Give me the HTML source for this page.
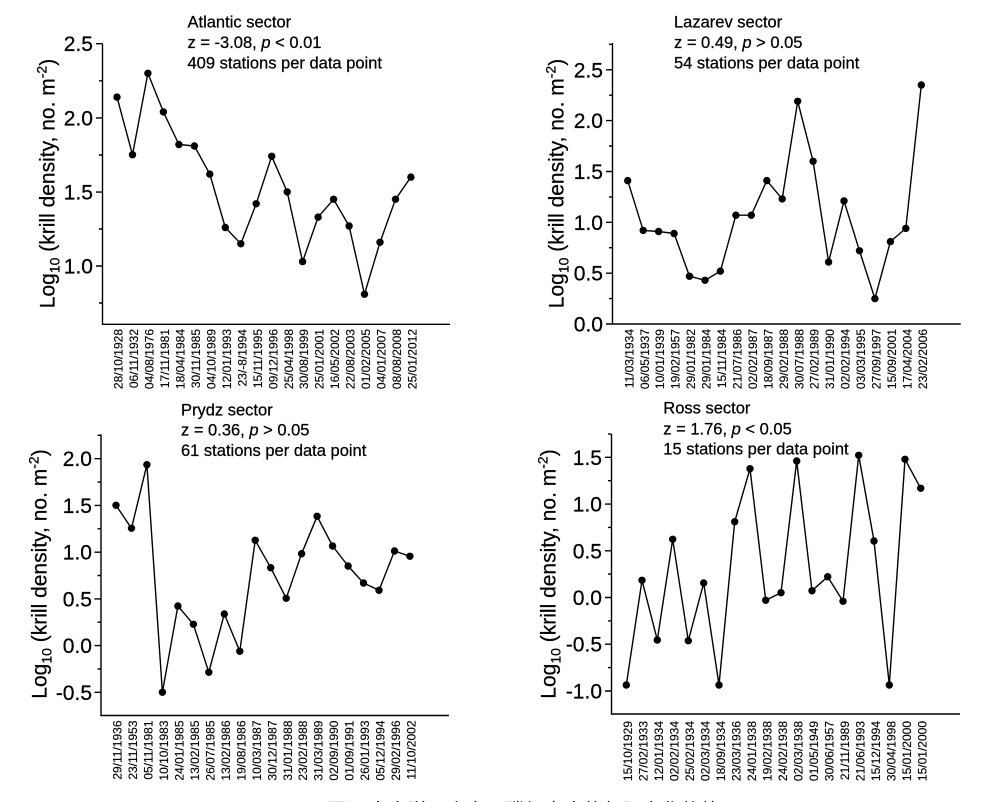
<!DOCTYPE html>
<html><head><meta charset="utf-8"><style>
html,body{margin:0;padding:0;background:#fff;}
svg{display:block;}
text{font-family:"Liberation Sans",Arial,sans-serif;fill:#000;stroke:#000;stroke-width:0.25px;}
.t{font-size:16.5px;}
.n{font-size:21px;text-anchor:end;}
.xl{font-size:12px;text-anchor:end;stroke-width:0.15px;}
.yl{font-size:21px;text-anchor:middle;}
.ax{stroke:#000;stroke-width:1.4;fill:none;}
.ln{stroke:#000;stroke-width:1.4;fill:none;stroke-linejoin:round;}
</style></head><body>
<svg width="1004" height="802" viewBox="0 0 1004 802" xmlns="http://www.w3.org/2000/svg">
<rect width="1004" height="802" fill="#fff"/>

<!-- ===== Atlantic ===== -->
<text class="t" x="187.5" y="27.3">Atlantic sector</text>
<text class="t" x="187.5" y="48">z = -3.08, <tspan font-style="italic">p</tspan> &lt; 0.01</text>
<text class="t" x="187.5" y="68.3">409 stations per data point</text>
<path class="ax" d="M102.5,43.7V324.3H450"/>
<path class="ax" d="M96,43.7H102.5M96,117.9H102.5M96,192.1H102.5M96,266H102.5M99,80.8H102.5M99,155H102.5M99,229H102.5M99,303H102.5"/>
<text class="n" x="93" y="51.2">2.5</text>
<text class="n" x="93" y="125.4">2.0</text>
<text class="n" x="93" y="199.6">1.5</text>
<text class="n" x="93" y="273.5">1.0</text>
<text class="yl" transform="translate(54.5,183.5) rotate(-90)">Log<tspan font-size="14" dy="5">10</tspan><tspan dy="-5"> (krill density, no. m</tspan><tspan font-size="14" dy="-8">-2</tspan><tspan dy="8">)</tspan></text>
<polyline class="ln" points="117,97.1 132.5,154.8 147.9,73.3 163.4,111.9 178.9,144.5 194.4,146 209.8,174.1 225.3,227.5 240.8,243.8 256.2,203.8 271.7,156.3 287.2,191.9 302.6,261.6 318.1,217.1 333.6,199.3 349.1,226 364.5,294.2 380,242.3 395.5,199.3 410.9,177.1"/>
<g fill="#000">
<circle cx="117" cy="97.1" r="3.7"/><circle cx="132.5" cy="154.8" r="3.7"/><circle cx="147.9" cy="73.3" r="3.7"/><circle cx="163.4" cy="111.9" r="3.7"/><circle cx="178.9" cy="144.5" r="3.7"/><circle cx="194.4" cy="146" r="3.7"/><circle cx="209.8" cy="174.1" r="3.7"/><circle cx="225.3" cy="227.5" r="3.7"/><circle cx="240.8" cy="243.8" r="3.7"/><circle cx="256.2" cy="203.8" r="3.7"/><circle cx="271.7" cy="156.3" r="3.7"/><circle cx="287.2" cy="191.9" r="3.7"/><circle cx="302.6" cy="261.6" r="3.7"/><circle cx="318.1" cy="217.1" r="3.7"/><circle cx="333.6" cy="199.3" r="3.7"/><circle cx="349.1" cy="226" r="3.7"/><circle cx="364.5" cy="294.2" r="3.7"/><circle cx="380" cy="242.3" r="3.7"/><circle cx="395.5" cy="199.3" r="3.7"/><circle cx="410.9" cy="177.1" r="3.7"/>
</g>
<text class="xl" x="122.6" y="329" transform="rotate(-90 122.6 329)">28/10/1928</text>
<text class="xl" x="138.1" y="329" transform="rotate(-90 138.1 329)">06/11/1932</text>
<text class="xl" x="153.5" y="329" transform="rotate(-90 153.5 329)">04/08/1976</text>
<text class="xl" x="169" y="329" transform="rotate(-90 169 329)">17/11/1981</text>
<text class="xl" x="184.5" y="329" transform="rotate(-90 184.5 329)">18/04/1984</text>
<text class="xl" x="200" y="329" transform="rotate(-90 200 329)">30/11/1985</text>
<text class="xl" x="215.4" y="329" transform="rotate(-90 215.4 329)">04/10/1989</text>
<text class="xl" x="230.9" y="329" transform="rotate(-90 230.9 329)">12/01/1993</text>
<text class="xl" x="246.4" y="329" transform="rotate(-90 246.4 329)">23/-8/1994</text>
<text class="xl" x="261.8" y="329" transform="rotate(-90 261.8 329)">15/11/1995</text>
<text class="xl" x="277.3" y="329" transform="rotate(-90 277.3 329)">09/12/1996</text>
<text class="xl" x="292.8" y="329" transform="rotate(-90 292.8 329)">25/04/1998</text>
<text class="xl" x="308.2" y="329" transform="rotate(-90 308.2 329)">30/08/1999</text>
<text class="xl" x="323.7" y="329" transform="rotate(-90 323.7 329)">25/01/2001</text>
<text class="xl" x="339.2" y="329" transform="rotate(-90 339.2 329)">16/05/2002</text>
<text class="xl" x="354.7" y="329" transform="rotate(-90 354.7 329)">22/08/2003</text>
<text class="xl" x="370.1" y="329" transform="rotate(-90 370.1 329)">01/02/2005</text>
<text class="xl" x="385.6" y="329" transform="rotate(-90 385.6 329)">04/01/2007</text>
<text class="xl" x="401.1" y="329" transform="rotate(-90 401.1 329)">08/08/2008</text>
<text class="xl" x="416.5" y="329" transform="rotate(-90 416.5 329)">25/01/2012</text>

<!-- ===== Lazarev ===== -->
<text class="t" x="674" y="27.3">Lazarev sector</text>
<text class="t" x="674" y="48">z = 0.49, <tspan font-style="italic">p</tspan> &gt; 0.05</text>
<text class="t" x="674" y="68.3">54 stations per data point</text>
<path class="ax" d="M612.5,43V324H960.7"/>
<path class="ax" d="M606,324H612.5M606,273.2H612.5M606,222.3H612.5M606,171.5H612.5M606,120.6H612.5M606,69.8H612.5M609,298.6H612.5M609,247.7H612.5M609,196.9H612.5M609,146H612.5M609,95.2H612.5M609,44.3H612.5"/>
<text class="n" x="603" y="331.5">0.0</text>
<text class="n" x="603" y="280.7">0.5</text>
<text class="n" x="603" y="229.8">1.0</text>
<text class="n" x="603" y="179">1.5</text>
<text class="n" x="603" y="128.1">2.0</text>
<text class="n" x="603" y="77.3">2.5</text>
<text class="yl" transform="translate(563.5,183.5) rotate(-90)">Log<tspan font-size="14" dy="5">10</tspan><tspan dy="-5"> (krill density, no. m</tspan><tspan font-size="14" dy="-8">-2</tspan><tspan dy="8">)</tspan></text>
<polyline class="ln" points="627.7,180.6 643.2,230.4 658.6,231.5 674.1,233.5 689.5,276.2 705,280.3 720.4,271.1 735.9,215.2 751.3,215.2 766.8,180.6 782.2,198.9 797.7,101.3 813.1,161.3 828.6,262 844,200.9 859.5,250.8 874.9,298.6 890.4,241.6 905.8,228.4 921.3,85"/>
<g fill="#000">
<circle cx="627.7" cy="180.6" r="3.7"/><circle cx="643.2" cy="230.4" r="3.7"/><circle cx="658.6" cy="231.5" r="3.7"/><circle cx="674.1" cy="233.5" r="3.7"/><circle cx="689.5" cy="276.2" r="3.7"/><circle cx="705" cy="280.3" r="3.7"/><circle cx="720.4" cy="271.1" r="3.7"/><circle cx="735.9" cy="215.2" r="3.7"/><circle cx="751.3" cy="215.2" r="3.7"/><circle cx="766.8" cy="180.6" r="3.7"/><circle cx="782.2" cy="198.9" r="3.7"/><circle cx="797.7" cy="101.3" r="3.7"/><circle cx="813.1" cy="161.3" r="3.7"/><circle cx="828.6" cy="262" r="3.7"/><circle cx="844" cy="200.9" r="3.7"/><circle cx="859.5" cy="250.8" r="3.7"/><circle cx="874.9" cy="298.6" r="3.7"/><circle cx="890.4" cy="241.6" r="3.7"/><circle cx="905.8" cy="228.4" r="3.7"/><circle cx="921.3" cy="85" r="3.7"/>
</g>
<text class="xl" x="633.3" y="329" transform="rotate(-90 633.3 329)">11/03/1934</text>
<text class="xl" x="648.8" y="329" transform="rotate(-90 648.8 329)">06/05/1937</text>
<text class="xl" x="664.2" y="329" transform="rotate(-90 664.2 329)">10/01/1939</text>
<text class="xl" x="679.7" y="329" transform="rotate(-90 679.7 329)">19/02/1957</text>
<text class="xl" x="695.1" y="329" transform="rotate(-90 695.1 329)">29/01/1982</text>
<text class="xl" x="710.6" y="329" transform="rotate(-90 710.6 329)">29/01/1984</text>
<text class="xl" x="726" y="329" transform="rotate(-90 726 329)">15/11/1984</text>
<text class="xl" x="741.5" y="329" transform="rotate(-90 741.5 329)">21/07/1986</text>
<text class="xl" x="756.9" y="329" transform="rotate(-90 756.9 329)">02/02/1987</text>
<text class="xl" x="772.4" y="329" transform="rotate(-90 772.4 329)">18/09/1987</text>
<text class="xl" x="787.8" y="329" transform="rotate(-90 787.8 329)">29/02/1988</text>
<text class="xl" x="803.3" y="329" transform="rotate(-90 803.3 329)">30/07/1988</text>
<text class="xl" x="818.7" y="329" transform="rotate(-90 818.7 329)">27/02/1989</text>
<text class="xl" x="834.2" y="329" transform="rotate(-90 834.2 329)">31/01/1990</text>
<text class="xl" x="849.6" y="329" transform="rotate(-90 849.6 329)">02/02/1994</text>
<text class="xl" x="865.1" y="329" transform="rotate(-90 865.1 329)">03/03/1995</text>
<text class="xl" x="880.5" y="329" transform="rotate(-90 880.5 329)">27/09/1997</text>
<text class="xl" x="896" y="329" transform="rotate(-90 896 329)">15/09/2001</text>
<text class="xl" x="911.4" y="329" transform="rotate(-90 911.4 329)">17/04/2004</text>
<text class="xl" x="926.9" y="329" transform="rotate(-90 926.9 329)">23/02/2006</text>

<!-- ===== Prydz ===== -->
<text class="t" x="181" y="415.5">Prydz sector</text>
<text class="t" x="181" y="435.7">z = 0.36, <tspan font-style="italic">p</tspan> &gt; 0.05</text>
<text class="t" x="181" y="456">61 stations per data point</text>
<path class="ax" d="M101,434.3V715.5H449"/>
<path class="ax" d="M94.5,458.7H101M94.5,505.4H101M94.5,552.2H101M94.5,598.9H101M94.5,645.6H101M94.5,692.3H101M97.5,435.3H101M97.5,482.1H101M97.5,528.8H101M97.5,575.5H101M97.5,622.2H101M97.5,669H101"/>
<text class="n" x="92" y="466.2">2.0</text>
<text class="n" x="92" y="512.9">1.5</text>
<text class="n" x="92" y="559.7">1.0</text>
<text class="n" x="92" y="606.4">0.5</text>
<text class="n" x="92" y="653.1">0.0</text>
<text class="n" x="92" y="699.8">-0.5</text>
<text class="yl" transform="translate(46.5,574) rotate(-90)">Log<tspan font-size="14" dy="5">10</tspan><tspan dy="-5"> (krill density, no. m</tspan><tspan font-size="14" dy="-8">-2</tspan><tspan dy="8">)</tspan></text>
<polyline class="ln" points="116,505.3 131.5,528.3 146.9,464.7 162.4,692.3 177.9,606 193.4,624.3 208.8,672.3 224.3,614 239.8,651.3 255.2,540.3 270.7,567.7 286.2,598.3 301.6,553.7 317.1,516.3 332.6,546 348.1,566 363.5,583 379,590.3 394.5,551 409.9,556.3"/>
<g fill="#000">
<circle cx="116" cy="505.3" r="3.7"/><circle cx="131.5" cy="528.3" r="3.7"/><circle cx="146.9" cy="464.7" r="3.7"/><circle cx="162.4" cy="692.3" r="3.7"/><circle cx="177.9" cy="606" r="3.7"/><circle cx="193.4" cy="624.3" r="3.7"/><circle cx="208.8" cy="672.3" r="3.7"/><circle cx="224.3" cy="614" r="3.7"/><circle cx="239.8" cy="651.3" r="3.7"/><circle cx="255.2" cy="540.3" r="3.7"/><circle cx="270.7" cy="567.7" r="3.7"/><circle cx="286.2" cy="598.3" r="3.7"/><circle cx="301.6" cy="553.7" r="3.7"/><circle cx="317.1" cy="516.3" r="3.7"/><circle cx="332.6" cy="546" r="3.7"/><circle cx="348.1" cy="566" r="3.7"/><circle cx="363.5" cy="583" r="3.7"/><circle cx="379" cy="590.3" r="3.7"/><circle cx="394.5" cy="551" r="3.7"/><circle cx="409.9" cy="556.3" r="3.7"/>
</g>
<text class="xl" x="121.6" y="720.5" transform="rotate(-90 121.6 720.5)">29/11/1936</text>
<text class="xl" x="137.1" y="720.5" transform="rotate(-90 137.1 720.5)">23/11/1953</text>
<text class="xl" x="152.5" y="720.5" transform="rotate(-90 152.5 720.5)">05/11/1981</text>
<text class="xl" x="168" y="720.5" transform="rotate(-90 168 720.5)">10/10/1983</text>
<text class="xl" x="183.5" y="720.5" transform="rotate(-90 183.5 720.5)">24/01/1985</text>
<text class="xl" x="199" y="720.5" transform="rotate(-90 199 720.5)">13/02/1985</text>
<text class="xl" x="214.4" y="720.5" transform="rotate(-90 214.4 720.5)">26/07/1985</text>
<text class="xl" x="229.9" y="720.5" transform="rotate(-90 229.9 720.5)">13/02/1986</text>
<text class="xl" x="245.4" y="720.5" transform="rotate(-90 245.4 720.5)">19/08/1986</text>
<text class="xl" x="260.8" y="720.5" transform="rotate(-90 260.8 720.5)">10/03/1987</text>
<text class="xl" x="276.3" y="720.5" transform="rotate(-90 276.3 720.5)">30/12/1987</text>
<text class="xl" x="291.8" y="720.5" transform="rotate(-90 291.8 720.5)">31/01/1988</text>
<text class="xl" x="307.2" y="720.5" transform="rotate(-90 307.2 720.5)">23/02/1988</text>
<text class="xl" x="322.7" y="720.5" transform="rotate(-90 322.7 720.5)">31/03/1989</text>
<text class="xl" x="338.2" y="720.5" transform="rotate(-90 338.2 720.5)">02/09/1990</text>
<text class="xl" x="353.7" y="720.5" transform="rotate(-90 353.7 720.5)">01/09/1991</text>
<text class="xl" x="369.1" y="720.5" transform="rotate(-90 369.1 720.5)">26/01/1993</text>
<text class="xl" x="384.6" y="720.5" transform="rotate(-90 384.6 720.5)">05/12/1994</text>
<text class="xl" x="400.1" y="720.5" transform="rotate(-90 400.1 720.5)">29/02/1996</text>
<text class="xl" x="415.5" y="720.5" transform="rotate(-90 415.5 720.5)">11/10/2002</text>

<!-- ===== Ross ===== -->
<text class="t" x="663.3" y="413.3">Ross sector</text>
<text class="t" x="663.3" y="434.3">z = 1.76, <tspan font-style="italic">p</tspan> &lt; 0.05</text>
<text class="t" x="663.3" y="454.3">15 stations per data point</text>
<path class="ax" d="M611.5,434V714H960"/>
<path class="ax" d="M605,457.3H611.5M605,504.1H611.5M605,550.8H611.5M605,597.5H611.5M605,644.2H611.5M605,691H611.5M608,434.1H611.5M608,480.7H611.5M608,527.4H611.5M608,574.1H611.5M608,620.9H611.5M608,667.6H611.5"/>
<text class="n" x="602" y="464.8">1.5</text>
<text class="n" x="602" y="511.6">1.0</text>
<text class="n" x="602" y="558.3">0.5</text>
<text class="n" x="602" y="605">0.0</text>
<text class="n" x="602" y="651.7">-0.5</text>
<text class="n" x="602" y="698.5">-1.0</text>
<text class="yl" transform="translate(555.5,574) rotate(-90)">Log<tspan font-size="14" dy="5">10</tspan><tspan dy="-5"> (krill density, no. m</tspan><tspan font-size="14" dy="-8">-2</tspan><tspan dy="8">)</tspan></text>
<polyline class="ln" points="626.3,685 642,580.3 657.3,640 672.7,539.3 688.3,640.7 703.7,583 719,685 734.7,521.7 750,468.7 765.7,600.3 781,592.7 796.7,461 812,590.7 827.7,576.7 843,601.3 858.7,455.3 874,541 889.3,685 905,459.3 920.7,488.3"/>
<g fill="#000">
<circle cx="626.3" cy="685" r="3.7"/><circle cx="642" cy="580.3" r="3.7"/><circle cx="657.3" cy="640" r="3.7"/><circle cx="672.7" cy="539.3" r="3.7"/><circle cx="688.3" cy="640.7" r="3.7"/><circle cx="703.7" cy="583" r="3.7"/><circle cx="719" cy="685" r="3.7"/><circle cx="734.7" cy="521.7" r="3.7"/><circle cx="750" cy="468.7" r="3.7"/><circle cx="765.7" cy="600.3" r="3.7"/><circle cx="781" cy="592.7" r="3.7"/><circle cx="796.7" cy="461" r="3.7"/><circle cx="812" cy="590.7" r="3.7"/><circle cx="827.7" cy="576.7" r="3.7"/><circle cx="843" cy="601.3" r="3.7"/><circle cx="858.7" cy="455.3" r="3.7"/><circle cx="874" cy="541" r="3.7"/><circle cx="889.3" cy="685" r="3.7"/><circle cx="905" cy="459.3" r="3.7"/><circle cx="920.7" cy="488.3" r="3.7"/>
</g>
<text class="xl" x="631.9" y="721" transform="rotate(-90 631.9 721)">15/10/1929</text>
<text class="xl" x="647.4" y="721" transform="rotate(-90 647.4 721)">27/02/1933</text>
<text class="xl" x="662.9" y="721" transform="rotate(-90 662.9 721)">12/01/1934</text>
<text class="xl" x="678.4" y="721" transform="rotate(-90 678.4 721)">02/02/1934</text>
<text class="xl" x="693.9" y="721" transform="rotate(-90 693.9 721)">25/02/1934</text>
<text class="xl" x="709.4" y="721" transform="rotate(-90 709.4 721)">02/03/1934</text>
<text class="xl" x="724.9" y="721" transform="rotate(-90 724.9 721)">18/09/1934</text>
<text class="xl" x="740.4" y="721" transform="rotate(-90 740.4 721)">23/03/1936</text>
<text class="xl" x="755.9" y="721" transform="rotate(-90 755.9 721)">24/01/1938</text>
<text class="xl" x="771.4" y="721" transform="rotate(-90 771.4 721)">19/02/1938</text>
<text class="xl" x="786.9" y="721" transform="rotate(-90 786.9 721)">24/02/1938</text>
<text class="xl" x="802.4" y="721" transform="rotate(-90 802.4 721)">02/03/1938</text>
<text class="xl" x="817.9" y="721" transform="rotate(-90 817.9 721)">01/05/1949</text>
<text class="xl" x="833.4" y="721" transform="rotate(-90 833.4 721)">30/06/1957</text>
<text class="xl" x="848.9" y="721" transform="rotate(-90 848.9 721)">21/11/1989</text>
<text class="xl" x="864.4" y="721" transform="rotate(-90 864.4 721)">21/06/1993</text>
<text class="xl" x="879.9" y="721" transform="rotate(-90 879.9 721)">15/12/1994</text>
<text class="xl" x="895.4" y="721" transform="rotate(-90 895.4 721)">30/04/1998</text>
<text class="xl" x="910.9" y="721" transform="rotate(-90 910.9 721)">15/01/2000</text>
<text class="xl" x="926.4" y="721" transform="rotate(-90 926.4 721)">15/01/2000</text>

<!-- clipped caption fragment at bottom -->
<text x="327" y="815.5" font-size="17" textLength="393" lengthAdjust="spacingAndGlyphs" style="font-family:'Liberation Sans','Noto Sans CJK SC',sans-serif;stroke-width:0;">图 3 南大洋四个扇区磷虾密度的年际变化趋势</text>
</svg>
</body></html>
